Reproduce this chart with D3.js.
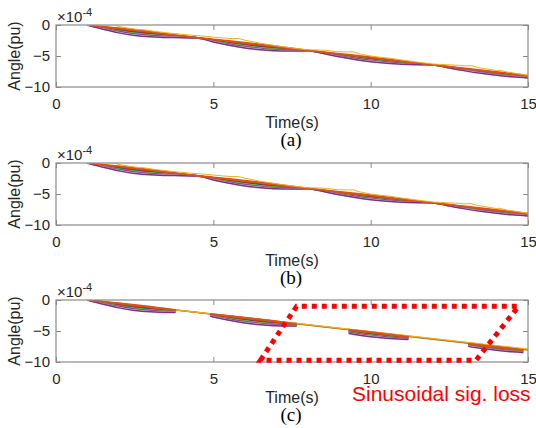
<!DOCTYPE html>
<html>
<head>
<meta charset="utf-8">
<script src="https://cdn.jsdelivr.net/npm/d3@7"></script>
<style>
  body { margin: 0; background: #fff; }
  svg { display: block; }
</style>
</head>
<body>
<svg id="fig" width="536" height="428"></svg>
<script>
// ---- data (angle in units of 1e-4 pu, time in s) ----
const times = [1,1.5,2,2.5,3,3.5,4,4.5,5,5.5,6,6.5,7,7.5,8,8.5,9,9.5,10,10.5,11,11.5,12,12.5,13,13.5,14,14.5,15];

const blueSeries    = [0,-0.43,-0.83,-1.16,-1.43,-1.67,-1.86,-2.07,-2.48,-2.86,-3.20,-3.49,-3.75,-3.94,-4.12,-4.47,-4.84,-5.19,-5.50,-5.78,-6.02,-6.24,-6.45,-6.81,-7.16,-7.49,-7.80,-8.07,-8.32];
const darkRedSeries = [0,-0.35,-0.69,-1.00,-1.28,-1.55,-1.80,-2.06,-2.40,-2.74,-3.05,-3.34,-3.62,-3.87,-4.11,-4.43,-4.75,-5.07,-5.37,-5.66,-5.93,-6.19,-6.45,-6.77,-7.09,-7.40,-7.70,-7.98,-8.25];
const greenSeries   = [0,-0.51,-0.96,-1.32,-1.58,-1.78,-1.91,-2.08,-2.56,-2.99,-3.36,-3.65,-3.88,-4.02,-4.13,-4.51,-4.93,-5.30,-5.63,-5.90,-6.12,-6.29,-6.45,-6.85,-7.23,-7.59,-7.90,-8.16,-8.38];
const purple2Series = [0,-0.59,-1.10,-1.48,-1.73,-1.89,-1.97,-2.10,-2.64,-3.12,-3.52,-3.81,-4.01,-4.10,-4.15,-4.55,-5.01,-5.42,-5.76,-6.02,-6.21,-6.35,-6.45,-6.89,-7.31,-7.68,-8.00,-8.25,-8.45];
const graySeries    = [0,-0.65,-1.20,-1.60,-1.84,-1.97,-2.01,-2.10,-2.70,-3.22,-3.63,-3.92,-4.11,-4.15,-4.15,-4.58,-5.08,-5.51,-5.86,-6.11,-6.28,-6.38,-6.45,-6.92,-7.36,-7.75,-8.07,-8.32,-8.50];
const purpleSeries  = [0,-0.69,-1.27,-1.68,-1.91,-2.03,-2.04,-2.11,-2.74,-3.28,-3.71,-4.00,-4.17,-4.19,-4.16,-4.60,-5.12,-5.57,-5.92,-6.17,-6.33,-6.41,-6.45,-6.94,-7.40,-7.80,-8.12,-8.36,-8.53];
const orange2Series = [0,-0.31,-0.62,-0.92,-1.21,-1.50,-1.77,-2.05,-2.36,-2.67,-2.97,-3.26,-3.55,-3.83,-4.10,-4.41,-4.71,-5.01,-5.30,-5.60,-5.88,-6.16,-6.45,-6.75,-7.05,-7.35,-7.65,-7.93,-8.22];
const orangeSeries  = [0,-0.23,-0.49,-0.76,-1.06,-1.39,-1.72,-2.04,-2.28,-2.54,-2.81,-3.10,-3.42,-3.75,-4.09,-4.37,-4.63,-4.89,-5.17,-5.48,-5.79,-6.11,-6.45,-6.71,-6.97,-7.26,-7.54,-7.84,-8.15];

// noisy measured trace
const yellowTimes  = [1,1.2,1.4,1.5,1.7,1.85,2,2.3,2.6,2.8,3,3.5,4,4.3,4.6,4.8,5,5.3,5.6,5.8,6,6.5,7,7.5,8,8.3,8.6,8.9,9.1,9.3,9.45,9.6,10,10.3,10.6,11,11.5,12,12.4,12.8,13,13.2,13.4,14,14.1,14.3,14.6,15];
const yellowSeries = [0,0.02,0,0.05,0.02,0.06,-0.25,-0.5,-0.72,-0.78,-0.95,-1.25,-1.5,-1.65,-1.75,-1.85,-1.95,-2.08,-2.2,-2.18,-2.45,-2.95,-3.35,-3.7,-4.0,-4.02,-4.1,-4.3,-4.32,-4.36,-4.3,-4.6,-5.0,-5.2,-5.35,-5.65,-6.0,-6.3,-6.4,-6.5,-6.6,-6.55,-6.85,-7.35,-7.3,-7.55,-7.8,-8.1];

// case (c): straight trend seen while the sinusoidal component is lost
const trendTimes  = [1, 15];
const trendGreen  = [0, -8.1];
const trendOrange = [0, -8.0];
const trendYellow = [0, -7.92];
// intervals (s) where the sinusoidal signal is still present in case (c)
const presentWindows = [[1, 3.8], [4.9, 7.65], [9.3, 11.2], [13.1, 14.85]];
// highlighted region (time s, angle 1e-4 pu)
const lossRegion = [[6.5, -9.7], [7.65, -1.0], [14.7, -1.0], [13.35, -9.7]];

const xTicks = [0, 5, 10, 15];
const yTicks = [-10, -5, 0];
const panelTags = ["(a)", "(b)", "(c)"];
const lossLabel = "Sinusoidal sig. loss";

// ---- styles ----
const seriesList = [
  { v: blueSeries,    c: "#0072BD" },
  { v: darkRedSeries, c: "#A2142F" },
  { v: greenSeries,   c: "#77AC30" },
  { v: purple2Series, c: "#7E2F8E" },
  { v: graySeries,    c: "#d9d9d9" },
  { v: purpleSeries,  c: "#7E2F8E" },
  { v: orange2Series, c: "#D95319" },
  { v: orangeSeries,  c: "#D95319" }
];

const svg = d3.select("#fig");
const sans = "'Liberation Sans', Arial, sans-serif";
const serif = "'Liberation Serif', 'Times New Roman', serif";
const left = 56, right = 528, plotH = 62;
const panelTops = [25, 163, 300];

panelTops.forEach((top, pi) => {
  const x = d3.scaleLinear().domain([0, 15]).range([left, right]);
  const y = d3.scaleLinear().domain([-10, 0]).range([top + plotH, top]);
  const g = svg.append("g");

  // plot-area clip
  const clipId = "plot" + pi;
  svg.append("clipPath").attr("id", clipId)
    .append("rect").attr("x", left).attr("y", top).attr("width", right - left).attr("height", plotH);

  const line = d3.line().x((d, i) => x(times[i])).y(d => y(d)).curve(d3.curveMonotoneX);
  const plot = g.append("g").attr("clip-path", `url(#${clipId})`);

  if (pi < 2) {
    seriesList.forEach(s => {
      plot.append("path").attr("d", line(s.v))
        .attr("fill", "none").attr("stroke", s.c).attr("stroke-width", 1.5);
    });
    const yl = d3.line().x((d, i) => x(yellowTimes[i])).y(d => y(d));
    plot.append("path").attr("d", yl(yellowSeries))
      .attr("fill", "none").attr("stroke", "#EDB120").attr("stroke-width", 1);
  } else {
    const tl = d3.line().x((d, i) => x(trendTimes[i])).y(d => y(d));
    [[trendGreen, "#77AC30"], [trendOrange, "#D95319"], [trendYellow, "#EDB120"]].forEach(([v, c]) => {
      plot.append("path").attr("d", tl(v))
        .attr("fill", "none").attr("stroke", c).attr("stroke-width", 1.3);
    });
    const winClip = "win" + pi;
    const cp = svg.append("clipPath").attr("id", winClip);
    presentWindows.forEach(w => {
      cp.append("rect").attr("x", x(w[0])).attr("y", top)
        .attr("width", x(w[1]) - x(w[0])).attr("height", plotH);
    });
    const fan = plot.append("g").attr("clip-path", `url(#${winClip})`);
    seriesList.forEach(s => {
      fan.append("path").attr("d", line(s.v))
        .attr("fill", "none").attr("stroke", s.c).attr("stroke-width", 1.5);
    });
  }

  // axes: ticks point inward, labels only on bottom/left
  const bottom = g.append("g").attr("transform", `translate(0,${top + plotH})`)
    .call(d3.axisBottom(x).tickValues(xTicks).tickSize(-5).tickPadding(11).tickFormat(d3.format("d")));
  const topAx = g.append("g").attr("transform", `translate(0,${top})`)
    .call(d3.axisTop(x).tickValues(xTicks).tickSize(-5).tickFormat(""));
  const leftAx = g.append("g").attr("transform", `translate(${left},0)`)
    .call(d3.axisLeft(y).tickValues(yTicks).tickSize(-5).tickPadding(6).tickFormat(d3.format("d")));
  const rightAx = g.append("g").attr("transform", `translate(${right},0)`)
    .call(d3.axisRight(y).tickValues(yTicks).tickSize(-5).tickFormat(""));
  [bottom, topAx, leftAx, rightAx].forEach(a => {
    a.select(".domain").remove();
    a.selectAll(".tick line").attr("stroke", "#8a8a8a").attr("stroke-width", 1);
    a.selectAll("text").attr("fill", "#262626").style("font-family", sans).style("font-size", "15px");
  });

  // box
  g.append("rect").attr("x", left).attr("y", top).attr("width", right - left).attr("height", plotH)
    .attr("fill", "none").attr("stroke", "#8a8a8a").attr("stroke-width", 1.2);

  // exponent label
  const ex = g.append("text").attr("x", left + 1).attr("y", top - 3)
    .attr("fill", "#262626").style("font-family", sans).style("font-size", "15px");
  ex.append("tspan").text("\u00d710");
  ex.append("tspan").attr("dy", -6).style("font-size", "11px").text("-4");

  // axis labels
  g.append("text").attr("transform", `translate(20,${top + plotH / 2}) rotate(-90)`)
    .attr("text-anchor", "middle").attr("fill", "#262626")
    .style("font-family", sans).style("font-size", "16px").text("Angle(pu)");
  g.append("text").attr("x", (left + right) / 2).attr("y", top + plotH + 41)
    .attr("text-anchor", "middle").attr("fill", "#262626")
    .style("font-family", sans).style("font-size", "16px").text("Time(s)");
  g.append("text").attr("x", 291).attr("y", top + plotH + 59)
    .attr("text-anchor", "middle").attr("fill", "#000")
    .style("font-family", serif).style("font-size", "19px").text(panelTags[pi]);

  if (pi === 2) {
    const poly = d3.line().x(d => x(d[0])).y(d => y(d[1]));
    g.append("path").attr("d", poly(lossRegion) + "Z")
      .attr("fill", "none").attr("stroke", "#ff0000").attr("stroke-width", 5)
      .attr("stroke-dasharray", "5,5");
    g.append("text").attr("x", 352).attr("y", top + plotH + 38.5)
      .attr("fill", "#ff0000").style("font-family", sans).style("font-size", "21px")
      .text(lossLabel);
  }
});
</script>
</body>
</html>
